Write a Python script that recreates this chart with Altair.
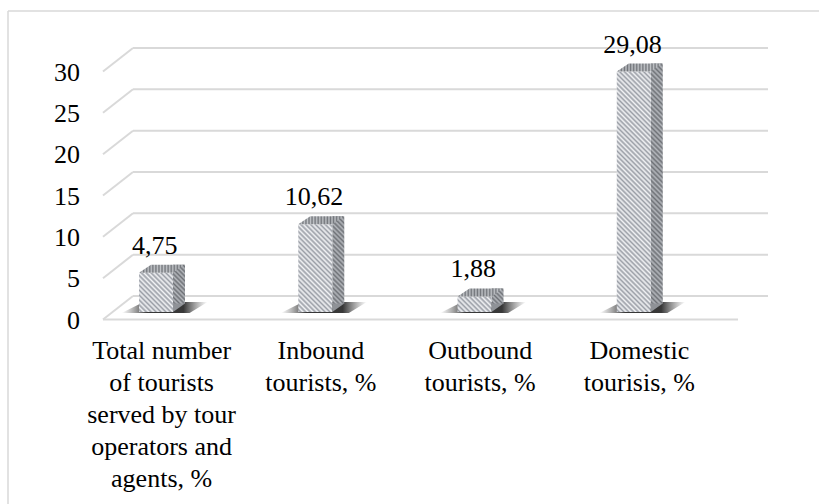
import math
import altair as alt
import pandas as pd

# ---- data ----
axis_labels = [
    "Total number|of tourists|served by tour|operators and|agents, %",
    "Inbound|tourists, %",
    "Outbound|tourists, %",
    "Domestic|tourisis, %",
]
values = [4.75, 10.62, 1.88, 29.08]
value_labels = ["4,75", "10,62", "1,88", "29,08"]
y_ticks = [0, 5, 10, 15, 20, 25, 30]
y_tick_labels = ["0", "5", "10", "15", "20", "25", "30"]

df = pd.DataFrame({"cat": axis_labels, "value": values, "label": value_labels})
ticks_df = pd.DataFrame({"v": y_ticks, "t": y_tick_labels})

FONT = "Liberation Serif"
GRID = "#d9d9d9"
W, H = 637, 248
Y_MAX = 30
BACK_DY = -16      # back wall offset (3D)
FRONT_DY = 7.5     # front floor edge offset (3D)

yscale = alt.Scale(domain=[0, Y_MAX], nice=False, zero=True)
xscale = alt.Scale(domain=axis_labels, paddingInner=0, paddingOuter=0)

X = alt.X("cat:N", scale=xscale, axis=None, sort=axis_labels)
Y = alt.Y("value:Q", scale=yscale, axis=None)
YV = alt.Y("v:Q", scale=yscale, axis=None)


def diag_stripes(w, h, period, c1, c2):
    """Diagonal hatch fill (lines running down-right) for a w x h box."""
    r = h / w
    s = (1 + r) / (1 + r * r)
    n = max(1, int(round((w + h) / (math.sqrt(2) * period))))
    stops = []
    for k in range(n):
        stops.append(alt.GradientStop(color=c1, offset=k / n))
        stops.append(alt.GradientStop(color=c2, offset=(k + 0.5) / n))
    stops.append(alt.GradientStop(color=c1, offset=1))
    return alt.LinearGradient(gradient="linear", x1=0, y1=1, x2=s, y2=1 - s * r,
                              stops=stops)


def vert_stripes(w, period, c1, c2):
    n = max(1, int(round(w / period)))
    stops = []
    for k in range(n):
        stops.append(alt.GradientStop(color=c1, offset=k / n))
        stops.append(alt.GradientStop(color=c2, offset=(k + 0.5) / n))
    stops.append(alt.GradientStop(color=c1, offset=1))
    return alt.LinearGradient(gradient="linear", x1=0, y1=0, x2=1, y2=0, stops=stops)


# outer frame
frame_top = alt.Chart(ticks_df.head(1)).mark_rule(color=GRID, strokeWidth=1.5).encode(
    x=alt.value(-74), x2=alt.value(740), y=alt.value(-53))
frame_left = alt.Chart(ticks_df.head(1)).mark_rule(color=GRID, strokeWidth=1.5).encode(
    x=alt.value(-74), y=alt.value(-53), y2=alt.value(445))

# back wall gridlines
grid_back = alt.Chart(ticks_df).mark_rule(
    color=GRID, strokeWidth=2, yOffset=BACK_DY, y2Offset=BACK_DY
).encode(y=YV, y2="v:Q", x=alt.value(51), x2=alt.value(686))

# left wall diagonals
grid_side = alt.Chart(ticks_df).mark_rule(
    color=GRID, strokeWidth=2, yOffset=FRONT_DY, y2Offset=BACK_DY
).encode(y=YV, y2="v:Q", x=alt.value(21), x2=alt.value(51))

# front floor edge
floor_front = alt.Chart(ticks_df.head(1)).mark_rule(
    color=GRID, strokeWidth=2, yOffset=FRONT_DY
).encode(y=YV, x=alt.value(21), x2=alt.value(656))

# y tick labels (front plane), one layer per tick
y_label_layers = [
    alt.Chart(ticks_df).transform_filter(alt.datum.v == v).mark_text(
        font=FONT, fontSize=26, align="right", baseline="middle", dy=8.5
    ).encode(y=YV, x=alt.value(-2), text=alt.value(t))
    for v, t in zip(y_ticks, y_tick_labels)
]

# category labels, one layer per category
x_label_layers = [
    alt.Chart(df).transform_filter(alt.datum.cat == cat).mark_text(
        font=FONT, fontSize=26, align="center", baseline="top",
        lineBreak="|", lineHeight=32
    ).encode(x=X, y=alt.value(H + 25.5), text=alt.value(cat))
    for cat in axis_labels
]

shadow_fill = alt.LinearGradient(
    gradient="linear", x1=0, y1=0, x2=1, y2=0,
    stops=[
        alt.GradientStop(color="rgba(90,90,90,0)", offset=0),
        alt.GradientStop(color="rgba(45,45,45,0.95)", offset=0.3),
        alt.GradientStop(color="rgba(45,45,45,0.95)", offset=0.72),
        alt.GradientStop(color="rgba(90,90,90,0)", offset=1),
    ])

shadow = alt.Chart(df).mark_point(
    shape="M-40,1 L28,1 L46,-10 L-18,-10 Z", size=4, filled=True,
    fill=shadow_fill, opacity=1, strokeWidth=0
).encode(x=X, y=YV).transform_calculate(v="0")

SIDE_A, SIDE_B = "#b4b7bc", "#6f7277"
TOP_A, TOP_B = "#c0c3c7", "#73767b"
FRONT_A, FRONT_B = "#f2f3f5", "#9a9ea6"
SIDE = "#8f9297"

side_layers = []
front_layers = []
value_label_layers = []
for cat, val, lab in zip(axis_labels, values, value_labels):
    h = val * H / Y_MAX
    side_layers.append(
        alt.Chart(df).transform_filter(alt.datum.cat == cat).transform_calculate(zero="0")
        .mark_bar(width=12, xOffset=17.4, yOffset=-8, y2Offset=-8,
                  fill=diag_stripes(12, h, 3.4, SIDE_A, SIDE_B))
        .encode(x=X, y=Y, y2=alt.Y2("zero:Q"))
    )
    front_layers.append(
        alt.Chart(df).transform_filter(alt.datum.cat == cat).transform_calculate(zero="0")
        .mark_bar(width=34, xOffset=-5.6,
                  fill=diag_stripes(34, h, 3.4, FRONT_A, FRONT_B))
        .encode(x=X, y=Y, y2=alt.Y2("zero:Q"))
    )
    value_label_layers.append(
        alt.Chart(df).transform_filter(alt.datum.cat == cat).mark_text(
            font=FONT, fontSize=26, baseline="alphabetic", xOffset=-7, yOffset=-19
        ).encode(x=X, y=Y, text=alt.value(lab))
    )

side_bottom = alt.Chart(df).mark_point(
    shape="M11.4,0 L11.4,-8.5 L23.4,-8.5 Z", size=4, filled=True,
    fill=SIDE, opacity=1, strokeWidth=0
).encode(x=X, y=YV).transform_calculate(v="0")

top = alt.Chart(df).mark_point(
    shape="M-22.6,0 L11.4,0 L23.4,-8 L-10.6,-8 Z", size=4, filled=True,
    fill=vert_stripes(46, 3.0, TOP_A, TOP_B), opacity=1, strokeWidth=0
).encode(x=X, y=Y)

chart = alt.layer(
    frame_top, frame_left, grid_back, grid_side, floor_front,
    *y_label_layers, *x_label_layers,
    shadow, *side_layers, side_bottom, *front_layers, top, *value_label_layers
).properties(
    width=W, height=H,
    autosize=alt.AutoSizeParams(type="none"),
    padding={"left": 82, "top": 64, "right": 100, "bottom": 192},
    background="white",
).configure_view(stroke=None)

chart.save("out.html", embed_options={"renderer": "svg", "actions": False})
